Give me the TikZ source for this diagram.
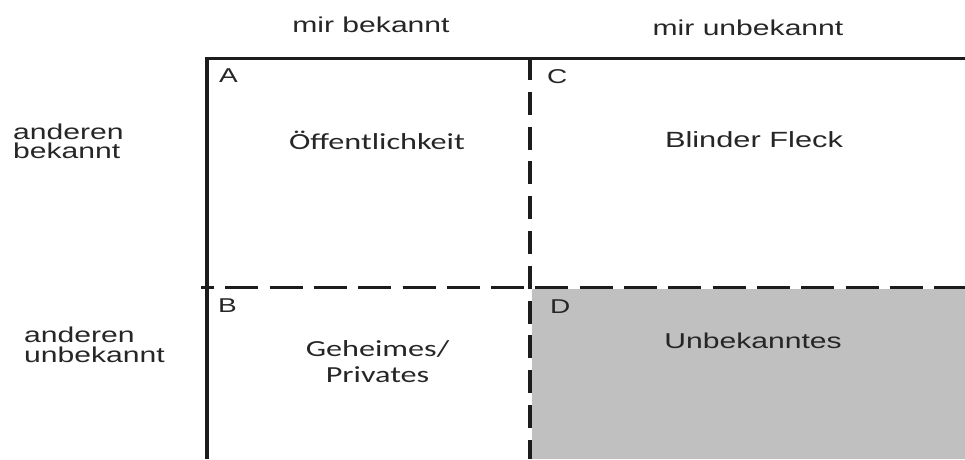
\documentclass[tikz,border=0pt]{standalone}
\usepackage{fontspec}
\newfontfamily\arialx[FakeStretch=1.4]{Liberation Sans}
\newfontfamily\calx[FakeStretch=1.4]{Carlito}
\definecolor{inkc}{HTML}{262626}
\definecolor{linec}{HTML}{1C1C1C}
\definecolor{greyfill}{HTML}{C0C0C0}
\tikzset{
  lbl/.style={inner sep=0pt, anchor=base, text=inkc, font=\arialx\fontsize{21.5}{24}\selectfont},
  lblw/.style={lbl, anchor=base west},
  cal/.style={inner sep=0pt, anchor=base, text=inkc, font=\calx\fontsize{23}{26}\selectfont},
  letter/.style={inner sep=0pt, anchor=base west, text=inkc, font=\arialx\fontsize{20}{22}\selectfont},
  solidline/.style={draw=linec, line width=3.2pt},
  hdash/.style={draw=linec, line width=3pt, dash pattern=on 33pt off 11.3pt, dash phase=20pt},
  vdash/.style={draw=linec, line width=3.4pt, dash pattern=on 23pt off 11.8pt}
}
\begin{document}
\begin{tikzpicture}[x=1pt,y=-1pt]
\useasboundingbox (0,0) rectangle (965,459);
% coordinates
\coordinate (topL) at (205.4,58.5);
\coordinate (topR) at (965,58.5);
\coordinate (leftT) at (207,57);
\coordinate (leftB) at (207,459);
\coordinate (midT) at (530,57);
\coordinate (midB) at (530,459);
\coordinate (hL) at (201,287);
\coordinate (hR) at (965,287);
\coordinate (dTL) at (532,288.5);
\coordinate (dBR) at (965,459);
% grey quadrant D
\fill[greyfill] (dTL) rectangle (dBR);
% grid lines
\draw[solidline] (topL) -- (topR);
\draw[solidline, line width=3.4pt] (leftT) -- (leftB);
\draw[vdash] (midT) -- (midB);
\draw[hdash] (hL) -- (hR);
% column headers
\node[lbl] (colA) at (371,32) {mir bekannt};
\node[lbl] (colB) at (748,35) {mir unbekannt};
% row headers
\node[lblw] (rowA1) at (13,139) {anderen};
\node[lblw] (rowA2) at (13,158.5) {bekannt};
\node[lblw] (rowB1) at (24,342.5) {anderen};
\node[lblw] (rowB2) at (24,362) {unbekannt};
% quadrant letters
\node[letter] (la) at (219,82) {A};
\node[letter] (lc) at (547,83) {C};
\node[letter] (lb) at (218,312) {B};
\node[letter] (ld) at (550,313) {D};
% quadrant contents
\node[cal] (qa) at (377,149) {Öffentlichkeit};
\node[lbl, font=\arialx\fontsize{22}{24}\selectfont] (qc) at (754,147) {Blinder Fleck};
\node[cal] (qb1) at (377.5,356) {Geheimes/};
\node[cal] (qb2) at (377.5,382) {Privates};
\node[lbl] (qd) at (753,348) {Unbekanntes};
\end{tikzpicture}
\end{document}
